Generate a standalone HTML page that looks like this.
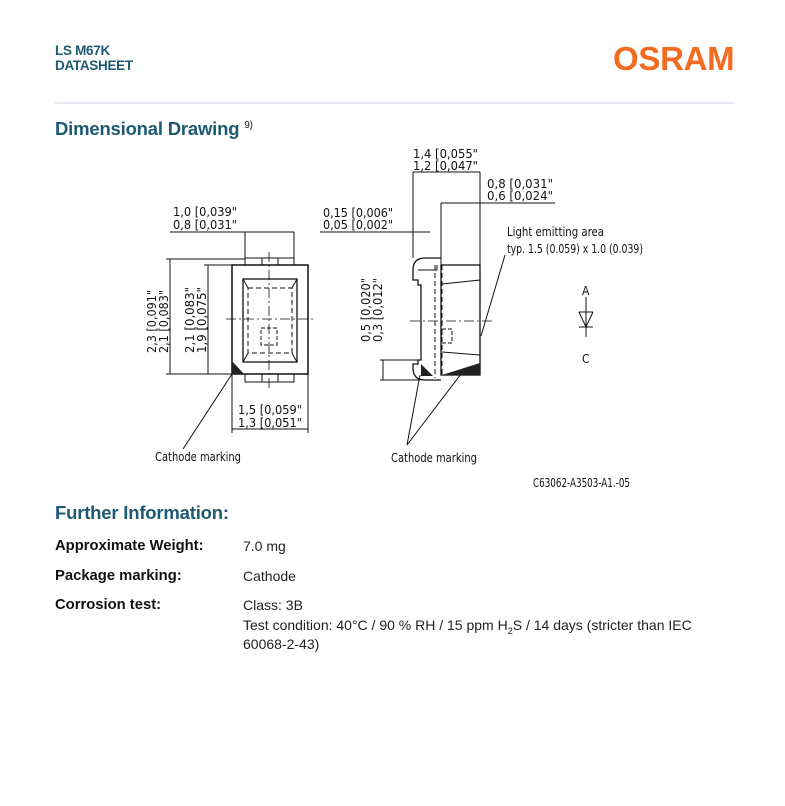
<!DOCTYPE html>
<html><head><meta charset="utf-8"><style>
body{margin:0;background:#fff;width:785px;height:806px;position:relative;overflow:hidden;font-family:"Liberation Sans",Arial,sans-serif;}
.a{position:absolute;white-space:nowrap;}
.hd{color:#1d5a72;font-weight:bold;font-size:13.5px;letter-spacing:-0.3px;}
.h2{color:#1d5a72;font-weight:bold;font-size:18.5px;letter-spacing:-0.2px;}
.lb{font-weight:bold;font-size:14.8px;color:#111;}
.v{font-size:14px;color:#222;}
svg text{font-family:"DejaVu Sans Condensed","Liberation Sans",sans-serif;font-size:12px;fill:#111;}
</style></head><body>
<div class="a hd" style="left:55px;top:43px">LS M67K</div>
<div class="a hd" style="left:55px;top:58px">DATASHEET</div>
<div class="a" style="left:613px;top:40px;color:#f26b21;font-weight:bold;font-size:33px;letter-spacing:-0.3px">OSRAM</div>
<div class="a" style="left:55px;top:102px;width:680px;height:2px;background:#e6ebf1"></div>
<div class="a h2" style="left:55px;top:118px">Dimensional Drawing <sup style="font-size:10px;color:#222;font-weight:normal">9)</sup></div>

<svg class="a" style="left:0;top:0" width="785" height="500" viewBox="0 0 785 500">
<g stroke="#111" fill="none" stroke-width="1">
<rect x="232" y="265" width="76" height="109" stroke-width="1.5"/>
<rect x="245" y="258" width="49" height="7"/><rect x="262" y="258" width="16" height="7"/>
<rect x="245" y="374" width="49" height="8"/><rect x="262" y="374" width="16" height="8"/>
<rect x="243" y="279" width="54" height="83" stroke-width="1.3"/>
<path d="M243 279 L248 288 M297 279 L292 288 M243 362 L248 353 M297 362 L292 353"/>
<rect x="248" y="288" width="44" height="65" stroke-dasharray="5,3"/>
<rect x="261" y="328" width="16" height="17" stroke-dasharray="4,2"/>
<path d="M226 319 H314 M269 252 V388" stroke-dasharray="10,3,2,3" stroke-width="0.8"/>
<path d="M166 259 H245 M166 374 H232 M170 259 V374 M204 265 H232 M208 265 V374"/>
<path d="M245 232 V258 M294 232 V258 M170 232 H294"/>
<path d="M232 374 V433 M308 374 V433 M232 429 H308"/>
<path d="M232 374 L183 449"/>
<rect x="441" y="265" width="39" height="110" stroke-width="1.3"/>
<path d="M441 258 H425 Q413 258 413 270 V280 H418 V285 H421 V360 H418 V364 H413 V368 Q413 380 425 380 H441" stroke-width="1.3"/>
<path d="M418 270 H437 V265" />
<path d="M435 265 V378 M442 265 V375" stroke-dasharray="5,3"/>
<path d="M442 284 L480 280 M442 352 L480 355"/>
<rect x="442" y="329" width="10" height="14" stroke-dasharray="4,2"/>
<path d="M410 321 H492" stroke-dasharray="10,3,2,3" stroke-width="0.8"/>
<path d="M413 172 V258 M480 172 V265 M413 172 H480 M441 203 V265 M441 203 H555 M320 232 H430 M380 360 H420 M380 380 H420 M383 360 V380"/>
<path d="M505 255 L481 336 M420 375 L407 445 M464 370 L407 445"/>
<path d="M586 297 V337 M579 312 H593 M579 312 L586 327 L593 312 M579 327 H593"/>
</g>
<g fill="#222">
<path d="M232 361 L232 374 L244 374 Z"/>
<path d="M421 364 L421 376 L433 376 Z"/>
<path d="M442 375 L480 363 L480 375 Z"/>
</g>
<g>
<text x="173" y="216" textLength="64" lengthAdjust="spacingAndGlyphs">1,0 [0,039"</text><text x="173" y="229" textLength="64" lengthAdjust="spacingAndGlyphs">0,8 [0,031"</text>
<text x="238" y="414" textLength="64" lengthAdjust="spacingAndGlyphs">1,5 [0,059"</text><text x="238" y="427" textLength="64" lengthAdjust="spacingAndGlyphs">1,3 [0,051"</text>
<text transform="translate(156,353) rotate(-90)" textLength="63" lengthAdjust="spacingAndGlyphs">2,3 [0,091"</text><text transform="translate(168,353) rotate(-90)" textLength="63" lengthAdjust="spacingAndGlyphs">2,1 [0,083"</text>
<text transform="translate(194,353) rotate(-90)" textLength="66" lengthAdjust="spacingAndGlyphs">2,1 [0,083"</text><text transform="translate(206,353) rotate(-90)" textLength="66" lengthAdjust="spacingAndGlyphs">1,9 [0,075"</text>
<text x="155" y="461" textLength="86" lengthAdjust="spacingAndGlyphs">Cathode marking</text>
<text x="413" y="158" textLength="65" lengthAdjust="spacingAndGlyphs">1,4 [0,055"</text><text x="413" y="170" textLength="65" lengthAdjust="spacingAndGlyphs">1,2 [0,047"</text>
<text x="487" y="188" textLength="66" lengthAdjust="spacingAndGlyphs">0,8 [0,031"</text><text x="487" y="200" textLength="66" lengthAdjust="spacingAndGlyphs">0,6 [0,024"</text>
<text x="323" y="217" textLength="70" lengthAdjust="spacingAndGlyphs">0,15 [0,006"</text><text x="323" y="229" textLength="70" lengthAdjust="spacingAndGlyphs">0,05 [0,002"</text>
<text transform="translate(370,342) rotate(-90)" textLength="64" lengthAdjust="spacingAndGlyphs">0,5 [0,020"</text><text transform="translate(382,342) rotate(-90)" textLength="64" lengthAdjust="spacingAndGlyphs">0,3 [0,012"</text>
<text x="507" y="236" textLength="97" lengthAdjust="spacingAndGlyphs">Light emitting area</text>
<text x="507" y="253" textLength="136" lengthAdjust="spacingAndGlyphs">typ. 1.5 (0.059) x 1.0 (0.039)</text>
<text x="582" y="295">A</text><text x="582" y="363">C</text>
<text x="391" y="462" textLength="86" lengthAdjust="spacingAndGlyphs">Cathode marking</text>
<text x="533" y="487" font-size="11" textLength="97" lengthAdjust="spacingAndGlyphs">C63062-A3503-A1.-05</text>
</g>
</svg>

<div class="a h2" style="left:55px;top:502px">Further Information:</div>
<div class="a lb" style="left:55px;top:538px">Approximate Weight:</div><div class="a v" style="left:243px;top:538px">7.0 mg</div>
<div class="a lb" style="left:55px;top:568px">Package marking:</div><div class="a v" style="left:243px;top:568px">Cathode</div>
<div class="a lb" style="left:55px;top:597px">Corrosion test:</div><div class="a v" style="left:243px;top:597px">Class: 3B</div>
<div class="a v" style="left:243px;top:617px">Test condition: 40°C / 90 % RH / 15 ppm H<sub style="font-size:9px">2</sub>S / 14 days (stricter than IEC</div>
<div class="a v" style="left:243px;top:636px">60068-2-43)</div>
</body></html>
